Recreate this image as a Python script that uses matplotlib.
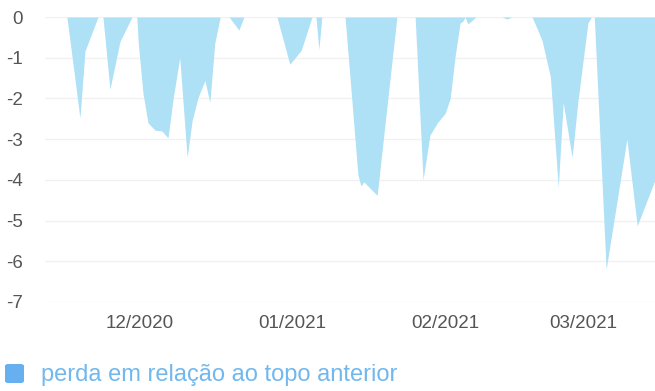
import matplotlib
matplotlib.use("Agg")
import matplotlib.pyplot as plt
import matplotlib.dates as mdates
from matplotlib.patches import FancyBboxPatch
import pandas as pd

# Data: drawdown (%) vs. time, offsets in days from 2020-12-01
days_from_dec1 = [
    -16.9, -14.66, -12.02, -11.0, -8.37,
    -7.36, -5.94, -3.91, -1.48,
    -0.5, -0.2, 0.75, 1.77, 3.2, 4.6, 5.82, 6.8, 8.2, 9.7, 10.7, 11.9, 13.3, 14.3, 15.3, 16.4,
    18.2, 20.2, 21.2,
    27.9, 30.5, 32.8, 35.0, 35.8, 36.4, 37.0,
    41.7, 44.3, 44.9, 45.5, 48.2, 52.2,
    55.9, 57.5, 58.9, 60.4, 62.0, 63.0, 64.0, 65.0, 65.6, 66.0, 66.6, 68.2,
    73.5, 74.5, 75.5,
    79.6, 81.6, 83.3, 84.9, 85.9, 87.7, 88.9, 90.9, 91.6,
    92.2, 94.6, 98.8, 100.9, 104.5,
]
drawdown = [
    0, 0, -2.48, -0.84, 0,
    0, -1.77, -0.6, 0,
    0, -0.64, -1.87, -2.6, -2.78, -2.8, -2.97, -2.05, -1.0, -3.45, -2.55, -1.98, -1.56, -2.1, -0.64, 0,
    0, -0.32, 0,
    0, -1.16, -0.82, 0, 0, -0.8, 0,
    0, -3.87, -4.15, -4.05, -4.38, 0,
    0, -4.0, -2.9, -2.6, -2.36, -2.0, -0.96, -0.15, -0.1, 0, -0.17, 0,
    0, -0.05, 0,
    0, -0.57, -1.47, -4.18, -2.1, -3.45, -2.05, -0.15, 0,
    0, -6.2, -3.0, -5.13, -4.0,
]
base_date = "2020-12-01"
tick_dates = ["2020-12-01", "2021-01-01", "2021-02-01", "2021-03-01"]
y_ticks = [0, -1, -2, -3, -4, -5, -6, -7]
legend_label = "perda em relação ao topo anterior"

dates = pd.Timestamp(base_date) + pd.to_timedelta(days_from_dec1, unit="D")

W, H = 655, 391
fig = plt.figure(figsize=(W / 100, H / 100), dpi=100)
ax = fig.add_axes([45 / W, (H - 302) / H, 1 - 45 / W, 285 / H])

fill_color = "#aee0f6"
ax.fill_between(dates, drawdown, 0, color=fill_color, linewidth=0)

ax.set_ylim(-7, 0)
ax.set_xlim(pd.Timestamp(base_date) + pd.Timedelta(days=-19.1), dates[-1])
ax.set_yticks(y_ticks)
ax.set_yticklabels([str(v) for v in y_ticks])
ax.set_xticks(pd.to_datetime(tick_dates))
ax.xaxis.set_major_formatter(mdates.DateFormatter("%m/%Y"))

for s in ax.spines.values():
    s.set_visible(False)
ax.grid(axis="y", color="#f1f1f1", linewidth=1)
ax.set_axisbelow(True)
ax.tick_params(axis="both", length=0, labelcolor="#555555", labelsize=13.5)
ax.tick_params(axis="y", pad=16)
ax.tick_params(axis="x", pad=9)
for lab in ax.get_xticklabels() + ax.get_yticklabels():
    lab.set_family("Liberation Sans")

# legend
sq = FancyBboxPatch((5 / W, (H - 383) / H), 19 / W, 19 / H,
                    boxstyle="round,pad=0,rounding_size=0.005",
                    transform=fig.transFigure, facecolor="#66b0f0",
                    edgecolor="none")
fig.patches.append(sq)
fig.text(41 / W, (H - 375) / H, legend_label, color="#70b8ee",
         fontsize=17, family="Liberation Sans", va="center", ha="left")

fig.savefig("out.png", dpi=100)
